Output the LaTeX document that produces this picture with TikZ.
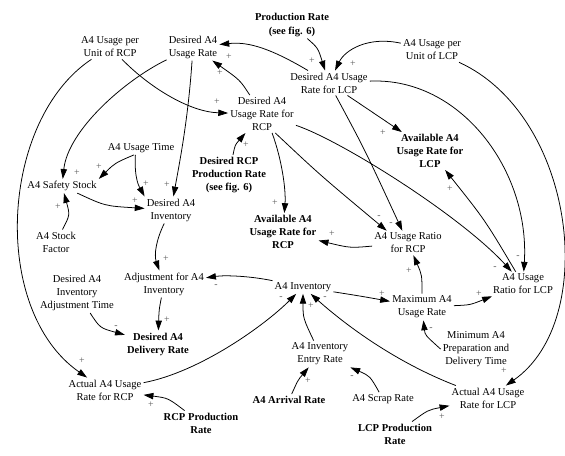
\documentclass[tikz,border=0pt]{standalone}
\usepackage{fontspec}
\setmainfont{Liberation Serif}
\usepackage{tikz}
\usetikzlibrary{arrows.meta}

\begin{document}
\begin{tikzpicture}[x=0.025cm, y=-0.025cm,
  var/.style={align=center, inner sep=1.4pt, font=\fontsize{7.5}{9.25}\selectfont},
  bvar/.style={var, font=\fontsize{7.5}{9.25}\selectfont\bfseries},
  link/.style={-{Triangle[length=7pt,width=4.5pt]}, line width=0.55pt},
  pol/.style={inner sep=0pt, text=black!65, font=\fontsize{7}{7}\selectfont}]
\useasboundingbox (0,0) rectangle (565,455);

\node[var] (uprcp) at (110,47) {A4 Usage per\\Unit of RCP};
\node[var] (dur) at (193,47) {Desired A4\\Usage Rate};
\node[bvar] (prodl) at (292,25) {Production Rate\\(see fig. 6)};
\node[var] (uplcp) at (432,50) {A4 Usage per\\Unit of LCP};
\node[var] (durl) at (329,83) {Desired A4 Usage\\Rate for LCP};
\node[var] (durr) at (262,114) {Desired A4\\Usage Rate for\\RCP};
\node[bvar] (avl) at (430,151) {Available A4\\Usage Rate for\\LCP};
\node[var] (utime) at (141,148) {A4 Usage Time};
\node[bvar] (prodr) at (229,175) {Desired RCP\\Production Rate\\(see fig. 6)};
\node[var] (safety) at (62,186) {A4 Safety Stock};
\node[var] (dinv) at (171,210) {Desired A4\\Inventory};
\node[bvar] (avr) at (283,232) {Available A4\\Usage Rate for\\RCP};
\node[var] (sfactor) at (56,242) {A4 Stock\\Factor};
\node[var] (ratior) at (408,243) {A4 Usage Ratio\\for RCP};
\node[var] (adj) at (164,284) {Adjustment for A4\\Inventory};
\node[var] (inv) at (303,287) {A4 Inventory};
\node[var] (ratiol) at (523,284) {A4 Usage\\Ratio for LCP};
\node[var] (adjtime) at (77,293) {Desired A4\\Inventory\\Adjustment Time};
\node[var] (maxr) at (422,307) {Maximum A4\\Usage Rate};
\node[bvar] (deliv) at (158,344) {Desired A4\\Delivery Rate};
\node[var] (mintime) at (476,349) {Minimum A4\\Preparation and\\Delivery Time};
\node[var] (entry) at (320,354) {A4 Inventory\\Entry Rate};
\node[var] (actr) at (105,390) {Actual A4 Usage\\Rate for RCP};
\node[var] (actl) at (488,398) {Actual A4 Usage\\Rate for LCP};
\node[bvar] (arrival) at (289,400) {A4 Arrival Rate};
\node[var] (scrap) at (383,399) {A4 Scrap Rate};
\node[bvar] (rcpprod) at (201,423) {RCP Production\\Rate};
\node[bvar] (lcpprod) at (395,434) {LCP Production\\Rate};

\draw[link] (durl) .. controls (265,45) and (245,42) .. (dur) node[pol, at={(229,57)}] {+};
\draw[link] (durr) .. controls (240,80) .. (dur) node[pol, at={(220,73)}] {+};
\draw[link] (uprcp) .. controls (150,88) and (190,112) .. (durr) node[pol, at={(217,102)}] {+};
\draw[link] (prodr) .. controls (235,145) .. (durr) node[pol, at={(246,145)}] {+};
\draw[link] (prodl) .. controls (318,48) .. (durl) node[pol, at={(312,61)}] {+};
\draw[link] (uplcp) .. controls (368,36) and (345,50) .. (durl) node[pol, at={(353,64)}] {+};
\draw[link] (dur) .. controls (125,80) and (68,130) .. (safety) node[pol, at={(77,173)}] {+};
\draw[link] (dur) .. controls (188,120) and (180,160) .. (dinv) node[pol, at={(167,185)}] {+};
\draw[link] ([xshift=-5pt]utime.south) .. controls (115,163) .. (safety.north east) node[pol, at={(99,167)}] {+};
\draw[link] ([xshift=-4pt]utime.south) .. controls (134,180) and (140,188) .. (dinv.north west) node[pol, at={(146,184)}] {+};
\draw[link] (safety) .. controls (105,206) .. (dinv) node[pol, at={(135,201)}] {+};
\draw[link] (sfactor) .. controls (70,215) .. (safety) node[pol, at={(58,207)}] {+};
\draw[link] (uprcp) .. controls (0,120) and (-10,310) .. (actr) node[pol, at={(82,361)}] {+};
\draw[link] (dinv) .. controls (156,240) and (154,255) .. (adj) node[pol, at={(166,259)}] {+};
\draw[link] (adj) .. controls (159,310) .. (deliv) node[pol, at={(167,320)}] {+};
\draw[link] (adjtime) .. controls (100,328) .. (deliv) node[pol, at={(116,327)}] {-};
\draw[link] (inv) .. controls (250,276) and (225,275) .. (adj) node[pol, at={(216,286)}] {-};
\draw[link] (actr) .. controls (200,372) and (265,325) .. (inv) node[pol, at={(281,298)}] {-};
\draw[link] (entry) .. controls (303,318) .. (inv) node[pol, at={(311,306)}] {+};
\draw[link] (actl) .. controls (390,360) and (340,320) .. (inv) node[pol, at={(325,298)}] {-};
\draw[link] (arrival) .. controls (298,380) .. (entry) node[pol, at={(308,381)}] {+};
\draw[link] (scrap) .. controls (370,376) .. (entry) node[pol, at={(352,377)}] {-};
\draw[link] (rcpprod) .. controls (168,398) .. (actr) node[pol, at={(151,405)}] {+};
\draw[link] (lcpprod) .. controls (428,410) .. (actl) node[pol, at={(442,417)}] {+};
\draw[link] (uplcp) .. controls (575,115) and (600,320) .. (actl) node[pol, at={(504,371)}] {+};
\draw[link] (inv) .. controls (360,296) .. (maxr) node[pol, at={(382,294)}] {+};
\draw[link] (maxr) .. controls (422,275) .. (ratior) node[pol, at={(409,271)}] {+};
\draw[link] (maxr) .. controls (470,305) .. (ratiol) node[pol, at={(479,294)}] {+};
\draw[link] (mintime.west) .. controls (425,335) .. (maxr) node[pol, at={(431,329)}] {-};
\draw[link] (ratior) .. controls (350,248) .. (avr) node[pol, at={(332,234)}] {+};
\draw[link] (durr.-62) .. controls (282,160) and (286,190) .. (avr) node[pol, at={(275,203)}] {+};
\draw[link] (durr.-55) .. controls (320,175) .. (ratior.150) node[pol, at={(379,217)}] {-};
\draw[link] (durl) .. controls (365,150) .. (ratior) node[pol, at={(391,224)}] {-};
\draw[link] (durl) -- (avl) node[pol, at={(383,133)}] {+};
\draw[link] (durr) .. controls (340,140) and (460,215) .. (ratiol) node[pol, at={(495,268)}] {-};
\draw[link] (durl) .. controls (460,77) and (530,170) .. (ratiol) node[pol, at={(518,257)}] {-};
\draw[link] (ratiol) .. controls (485,220) .. (avl) node[pol, at={(450,189)}] {+};
\end{tikzpicture}
\end{document}
